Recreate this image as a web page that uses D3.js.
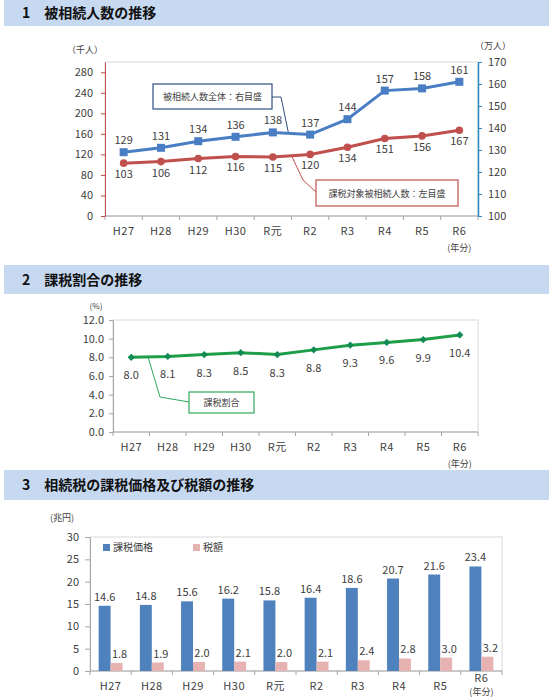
<!DOCTYPE html>
<html>
<head>
<meta charset="utf-8">
<script src="https://cdn.jsdelivr.net/npm/d3@7"></script>
<style>
body { margin: 0; background: #fff; }
text { font-family: "Noto Sans CJK JP", sans-serif; fill: #404040; }
.title { font-size: 14px; font-weight: bold; fill: #111; }
.axis text { font-size: 11px; fill: #404040; }
</style>
</head>
<body>
<svg id="chart" width="552" height="700"></svg>
<script>
// data
const years = ['H27', 'H28', 'H29', 'H30', 'R元', 'R2', 'R3', 'R4', 'R5', 'R6'];
const allDecedents = [129, 131, 134, 136, 138, 137, 144, 157, 158, 161]; // 万人, right axis
const taxedDecedents = [103, 106, 112, 116, 115, 120, 134, 151, 156, 167]; // 千人, left axis
const taxRatio = [8.0, 8.1, 8.3, 8.5, 8.3, 8.8, 9.3, 9.6, 9.9, 10.4]; // %
const taxableValue = [14.6, 14.8, 15.6, 16.2, 15.8, 16.4, 18.6, 20.7, 21.6, 23.4]; // 兆円
const taxAmount = [1.8, 1.9, 2.0, 2.1, 2.0, 2.1, 2.4, 2.8, 3.0, 3.2]; // 兆円

const ticksLeft1 = [0, 40, 80, 120, 160, 200, 240, 280];
const ticksRight1 = [100, 110, 120, 130, 140, 150, 160, 170];
const ticks2 = [0, 2, 4, 6, 8, 10, 12];
const ticks3 = [0, 5, 10, 15, 20, 25, 30];

const blue = '#4a7ec4';
const red = '#c0504d';
const green = '#1e9e48';
const greenMark = '#128a55';
const barBlue = '#4f81bd';
const barPink = '#e6b3b2';
const gridGrey = '#d9d9d9';
const axisGrey = '#a6a6a6';

const svg = d3.select('#chart');

function header(y, h, label) {
	svg.append('rect')
		.attr('x', 4).attr('y', y)
		.attr('width', 545).attr('height', h)
		.attr('fill', '#c6d9f1');
	svg.append('text')
		.attr('class', 'title')
		.attr('x', 22).attr('y', y + h / 2 + 5)
		.text(label);
}

// category axis: labels at band centres, ticks at band edges
function categoryAxis(x, y, last2line) {
	const g = svg.append('g').attr('class', 'axis');
	g.append('line')
		.attr('x1', x.range()[0]).attr('x2', x.range()[1])
		.attr('y1', y).attr('y2', y)
		.attr('stroke', axisGrey);
	const edges = years.map((d) => x(d)).concat([x.range()[1]]);
	g.selectAll('.edge')
		.data(edges)
		.join('line')
		.attr('x1', (d) => d).attr('x2', (d) => d)
		.attr('y1', y).attr('y2', y + 4)
		.attr('stroke', axisGrey);
	g.selectAll('.lab')
		.data(years)
		.join('text')
		.attr('x', (d) => x(d) + x.bandwidth() / 2)
		.attr('y', (d, i) => (last2line && i === years.length - 1 ? y + 11 : y + 19))
		.attr('text-anchor', 'middle')
		.attr('letter-spacing', '0.5px')
		.text((d) => d);
	const lx = x(years[years.length - 1]) + x.bandwidth() / 2;
	g.append('text')
		.attr('x', lx)
		.attr('y', last2line ? y + 24 : y + 35)
		.attr('text-anchor', 'middle')
		.style('font-size', '9px')
		.text('(年分)');
}

function styleAxis(g, color) {
	g.attr('class', 'axis');
	g.select('.domain').attr('stroke', color);
	g.selectAll('.tick line').attr('stroke', color);
}

function plotBox(x, y) {
	svg.append('rect')
		.attr('x', x.range()[0]).attr('y', y.range()[1])
		.attr('width', x.range()[1] - x.range()[0])
		.attr('height', y.range()[0] - y.range()[1])
		.attr('fill', 'none')
		.attr('stroke', gridGrey);
}

function callout(bx, by, bw, bh, label, color, path) {
	svg.append('path')
		.attr('d', d3.line()(path))
		.attr('fill', 'none')
		.attr('stroke', color)
		.attr('stroke-width', 1);
	svg.append('rect')
		.attr('x', bx).attr('y', by)
		.attr('width', bw).attr('height', bh)
		.attr('fill', '#fff')
		.attr('stroke', color)
		.attr('stroke-width', 1.2);
	svg.append('text')
		.attr('x', bx + bw / 2).attr('y', by + bh / 2 + 3.5)
		.attr('text-anchor', 'middle')
		.style('font-size', '9px')
		.text(label);
}

// point on line between two categories
function between(x, y, values, i, t) {
	const xa = x(years[i]) + x.bandwidth() / 2;
	const xb = x(years[i + 1]) + x.bandwidth() / 2;
	return [xa + (xb - xa) * t, y(values[i] + (values[i + 1] - values[i]) * t)];
}

// ---------- 1 ----------
header(0, 26, '1　被相続人数の推移');
{
	const x = d3.scaleBand().domain(years).range([105, 478]);
	const yL = d3.scaleLinear().domain([0, 300]).range([216, 62]);
	const yR = d3.scaleLinear().domain([100, 170]).range([216, 62]);
	const cx = (d) => x(d) + x.bandwidth() / 2;

	plotBox(x, yL);
	categoryAxis(x, 216, false);

	svg.append('g')
		.attr('transform', 'translate(105,0)')
		.call(d3.axisLeft(yL).tickValues(ticksLeft1).tickSize(4).tickSizeOuter(0).tickPadding(8))
		.call((g) => styleAxis(g, red));
	svg.append('g')
		.attr('transform', 'translate(478,0)')
		.call(d3.axisRight(yR).tickValues(ticksRight1).tickSize(4).tickSizeOuter(0).tickPadding(6))
		.call((g) => styleAxis(g, '#2e86c1'))
		.select('.domain').attr('stroke-width', 1.5);

	svg.append('text').attr('x', 85).attr('y', 53).attr('text-anchor', 'middle')
		.style('font-size', '9px').text('（千人）');
	svg.append('text').attr('x', 493).attr('y', 49).attr('text-anchor', 'middle')
		.style('font-size', '9px').text('（万人）');

	// callouts
	const pb = between(x, yR, allDecedents, 4, 0.42);
	callout(153, 84, 119, 25, '被相続人数全体：右目盛', '#2f4f7f',
		[[272, 97], [281, 97], pb]);
	const pr = between(x, yL, taxedDecedents, 4, 0.5);
	callout(316, 180, 142, 26, '課税対象被相続人数：左目盛', red,
		[pr, [303, 180], [316, 192]]);

	const line = (y, vals) => d3.line().x((d, i) => cx(years[i])).y((d) => y(d))(vals);

	svg.append('path').attr('d', line(yR, allDecedents))
		.attr('fill', 'none').attr('stroke', blue).attr('stroke-width', 3);
	svg.append('path').attr('d', line(yL, taxedDecedents))
		.attr('fill', 'none').attr('stroke', red).attr('stroke-width', 3);

	svg.selectAll('.sq')
		.data(allDecedents)
		.join('rect')
		.attr('x', (d, i) => cx(years[i]) - 4)
		.attr('y', (d) => yR(d) - 4)
		.attr('width', 8).attr('height', 8)
		.attr('fill', blue);
	svg.selectAll('.dot')
		.data(taxedDecedents)
		.join('circle')
		.attr('cx', (d, i) => cx(years[i]))
		.attr('cy', (d) => yL(d))
		.attr('r', 3.8)
		.attr('fill', red);

	svg.selectAll('.lb')
		.data(allDecedents)
		.join('text')
		.attr('x', (d, i) => cx(years[i]))
		.attr('y', (d) => yR(d) - 8)
		.attr('text-anchor', 'middle')
		.style('font-size', '11px')
		.text((d) => d);
	svg.selectAll('.lr')
		.data(taxedDecedents)
		.join('text')
		.attr('x', (d, i) => cx(years[i]))
		.attr('y', (d) => yL(d) + 15)
		.attr('text-anchor', 'middle')
		.style('font-size', '11px')
		.text((d) => d);
}

// ---------- 2 ----------
header(265, 29, '2　課税割合の推移');
{
	const x = d3.scaleBand().domain(years).range([113, 478]);
	const y = d3.scaleLinear().domain([0, 12]).range([432, 320]);
	const cx = (d) => x(d) + x.bandwidth() / 2;

	plotBox(x, y);
	categoryAxis(x, 432, false);
	svg.append('g')
		.attr('transform', 'translate(113,0)')
		.call(d3.axisLeft(y).tickValues(ticks2).tickSize(4).tickSizeOuter(0).tickPadding(5)
			.tickFormat(d3.format('.1f')))
		.call((g) => styleAxis(g, axisGrey));
	svg.append('text').attr('x', 96).attr('y', 309).attr('text-anchor', 'middle')
		.style('font-size', '8px').text('(%)');

	const p = between(x, y, taxRatio, 0, 0.46);
	callout(189, 392, 65, 21, '課税割合', '#2fa85c',
		[p, [160, 397], [189, 402]]);

	svg.append('path')
		.attr('d', d3.line().x((d, i) => cx(years[i])).y((d) => y(d))(taxRatio))
		.attr('fill', 'none').attr('stroke', green).attr('stroke-width', 3);
	svg.selectAll('.dia')
		.data(taxRatio)
		.join('path')
		.attr('d', d3.symbol(d3.symbolDiamond2, 34))
		.attr('transform', (d, i) => `translate(${cx(years[i])},${y(d)})`)
		.attr('fill', greenMark);
	svg.selectAll('.lg')
		.data(taxRatio)
		.join('text')
		.attr('x', (d, i) => cx(years[i]))
		.attr('y', (d) => y(d) + 22)
		.attr('text-anchor', 'middle')
		.style('font-size', '11px')
		.text((d) => d.toFixed(1));
}

// ---------- 3 ----------
header(470, 30, '3　相続税の課税価格及び税額の推移');
{
	const x = d3.scaleBand().domain(years).range([90, 502]);
	const y = d3.scaleLinear().domain([0, 30]).range([671, 537]);
	const sub = d3.scaleBand().domain(['value', 'tax'])
		.range([x.bandwidth() * 0.21, x.bandwidth() * 0.79]);

	plotBox(x, y);
	categoryAxis(x, 671, true);
	svg.append('g')
		.attr('transform', 'translate(90,0)')
		.call(d3.axisLeft(y).tickValues(ticks3).tickSize(5).tickSizeOuter(0).tickPadding(6))
		.call((g) => styleAxis(g, axisGrey));
	svg.append('text').attr('x', 62).attr('y', 521).attr('text-anchor', 'middle')
		.style('font-size', '9px').text('(兆円)');

	const groups = [
		{ key: 'value', vals: taxableValue, color: barBlue, dx: 0 },
		{ key: 'tax', vals: taxAmount, color: barPink, dx: 3 },
	];
	groups.forEach((s) => {
		svg.selectAll(`.bar-${s.key}`)
			.data(s.vals)
			.join('rect')
			.attr('x', (d, i) => x(years[i]) + sub(s.key))
			.attr('y', (d) => y(d))
			.attr('width', sub.bandwidth())
			.attr('height', (d) => y(0) - y(d))
			.attr('fill', s.color);
		svg.selectAll(`.val-${s.key}`)
			.data(s.vals)
			.join('text')
			.attr('x', (d, i) => x(years[i]) + sub(s.key) + sub.bandwidth() / 2 + s.dx)
			.attr('y', (d) => y(d) - 5)
			.attr('text-anchor', 'middle')
			.style('font-size', '11px')
			.text((d) => d.toFixed(1));
	});

	// legend
	const legend = [
		{ label: '課税価格', color: barBlue, x: 103 },
		{ label: '税額', color: barPink, x: 193 },
	];
	legend.forEach((l) => {
		svg.append('rect').attr('x', l.x).attr('y', 544).attr('width', 7).attr('height', 7)
			.attr('fill', l.color);
		svg.append('text').attr('x', l.x + 10).attr('y', 551)
			.style('font-size', '10px').text(l.label);
	});
}
</script>
</body>
</html>
